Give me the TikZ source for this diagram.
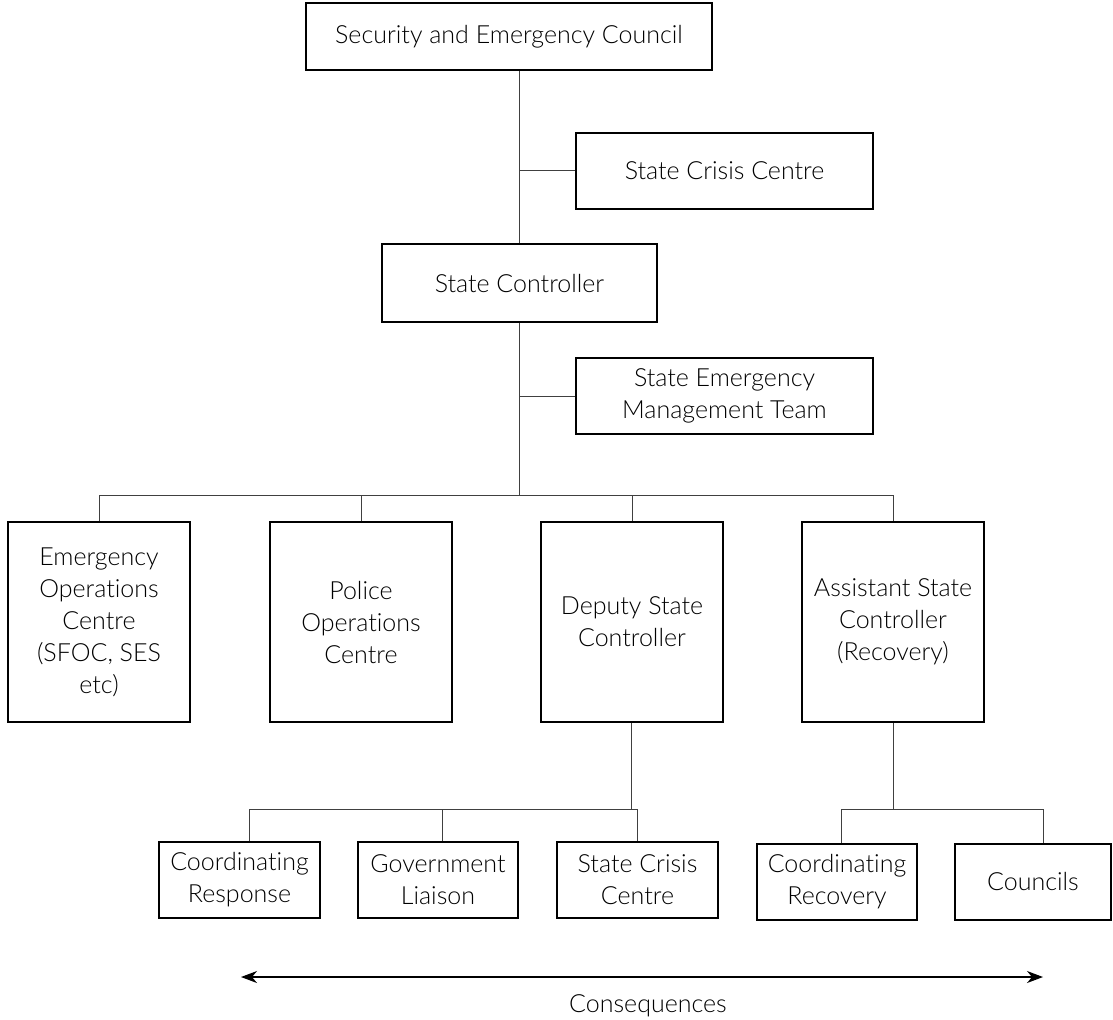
\documentclass[tikz,border=0pt]{standalone}
\usepackage{fontspec}
\setmainfont{Lato}[UprightFont=* Light,RawFeature={-liga;-dlig}]
\usetikzlibrary{arrows.meta,calc}

\tikzset{
  orgbox/.style={draw,line width=1pt,align=center,inner sep=0pt,
    font=\fontsize{12.5}{16}\selectfont},
  wide/.style={orgbox,minimum width=148.5pt,minimum height=38pt},
  tall/.style={orgbox,minimum width=91pt,minimum height=100pt},
  small/.style={orgbox,minimum width=80.5pt,minimum height=38pt},
  link/.style={line width=0.5pt,black!75},
}

\begin{document}
\begin{tikzpicture}[x=0.5pt,y=-0.5pt]
  \useasboundingbox (0,0) rectangle (1113,1019);
  % top of the chain
  \node[orgbox,minimum width=203pt,minimum height=33.5pt] (sec) at (509,36.5)
    {Security and Emergency Council};
  \node[wide] (scc) at (724.5,170.5) {State Crisis Centre};
  \node[orgbox,minimum width=137.5pt,minimum height=39pt] (sc) at (519.5,283)
    {State Controller};
  \node[wide] (semt) at (724.5,396) {State Emergency\\Management Team};
  \coordinate (bus) at (519.5,495);

  % second row
  \node[tall] (eoc) at (99,622) {Emergency\\Operations\\Centre\\(SFOC, SES\\etc)};
  \node[tall] (poc) at (361,622) {Police\\Operations\\Centre};
  \node[tall] (dsc) at (632,622) {Deputy State\\Controller};
  \node[tall] (asc) at (893,622) {Assistant State\\Controller\\(Recovery)};
  \coordinate (dbus) at (631,809);
  \coordinate (abus) at (893,809);

  % bottom row
  \node[small] (cresp) at (239.5,880) {Coordinating\\Response};
  \node[small,minimum width=80pt] (gl) at (438,880) {Government\\Liaison};
  \node[small] (scc2) at (637.5,880) {State Crisis\\Centre};
  \node[small,minimum width=80pt] (crec) at (837,881.5) {Coordinating\\Recovery};
  \node[small,minimum width=78pt] (coun) at (1033,881.5) {Councils};

  \draw[link] (sc.north) -- (sc.north |- sec.south);
  \draw[link] (scc) -- (scc -| sc.north);
  \draw[link] (sc.south) -- (bus);
  \draw[link] (semt) -- (semt -| bus);
  \draw[link] (eoc.north) |- (bus) -| (asc.north);
  \draw[link] (poc.north) -- (poc.north |- bus);
  \draw[link] (dsc.north) -- (dsc.north |- bus);

  \draw[link] (dsc.south -| dbus) -- (dbus);
  \draw[link] ([xshift=5pt]cresp.north) |- (dbus) -| (scc2.north);
  \draw[link] ([xshift=2pt]gl.north) -- ([xshift=2pt]gl.north |- dbus);
  \draw[link] (asc.south) -- (abus);
  \draw[link] ([xshift=2pt]crec.north) |- (abus) -| ([xshift=5pt]coun.north);

  % consequences
  \coordinate (csL) at (241,977);
  \coordinate (csR) at (1043,977);
  \draw[line width=0.6pt,{Stealth[length=8pt,width=6pt,inset=2.5pt]}-{Stealth[length=8pt,width=6pt,inset=2.5pt]}]
    (csL) -- (csR);
  \node[font=\fontsize{12.5}{16}\selectfont] (cons) at (648,1006) {Consequences};
\end{tikzpicture}
\end{document}
